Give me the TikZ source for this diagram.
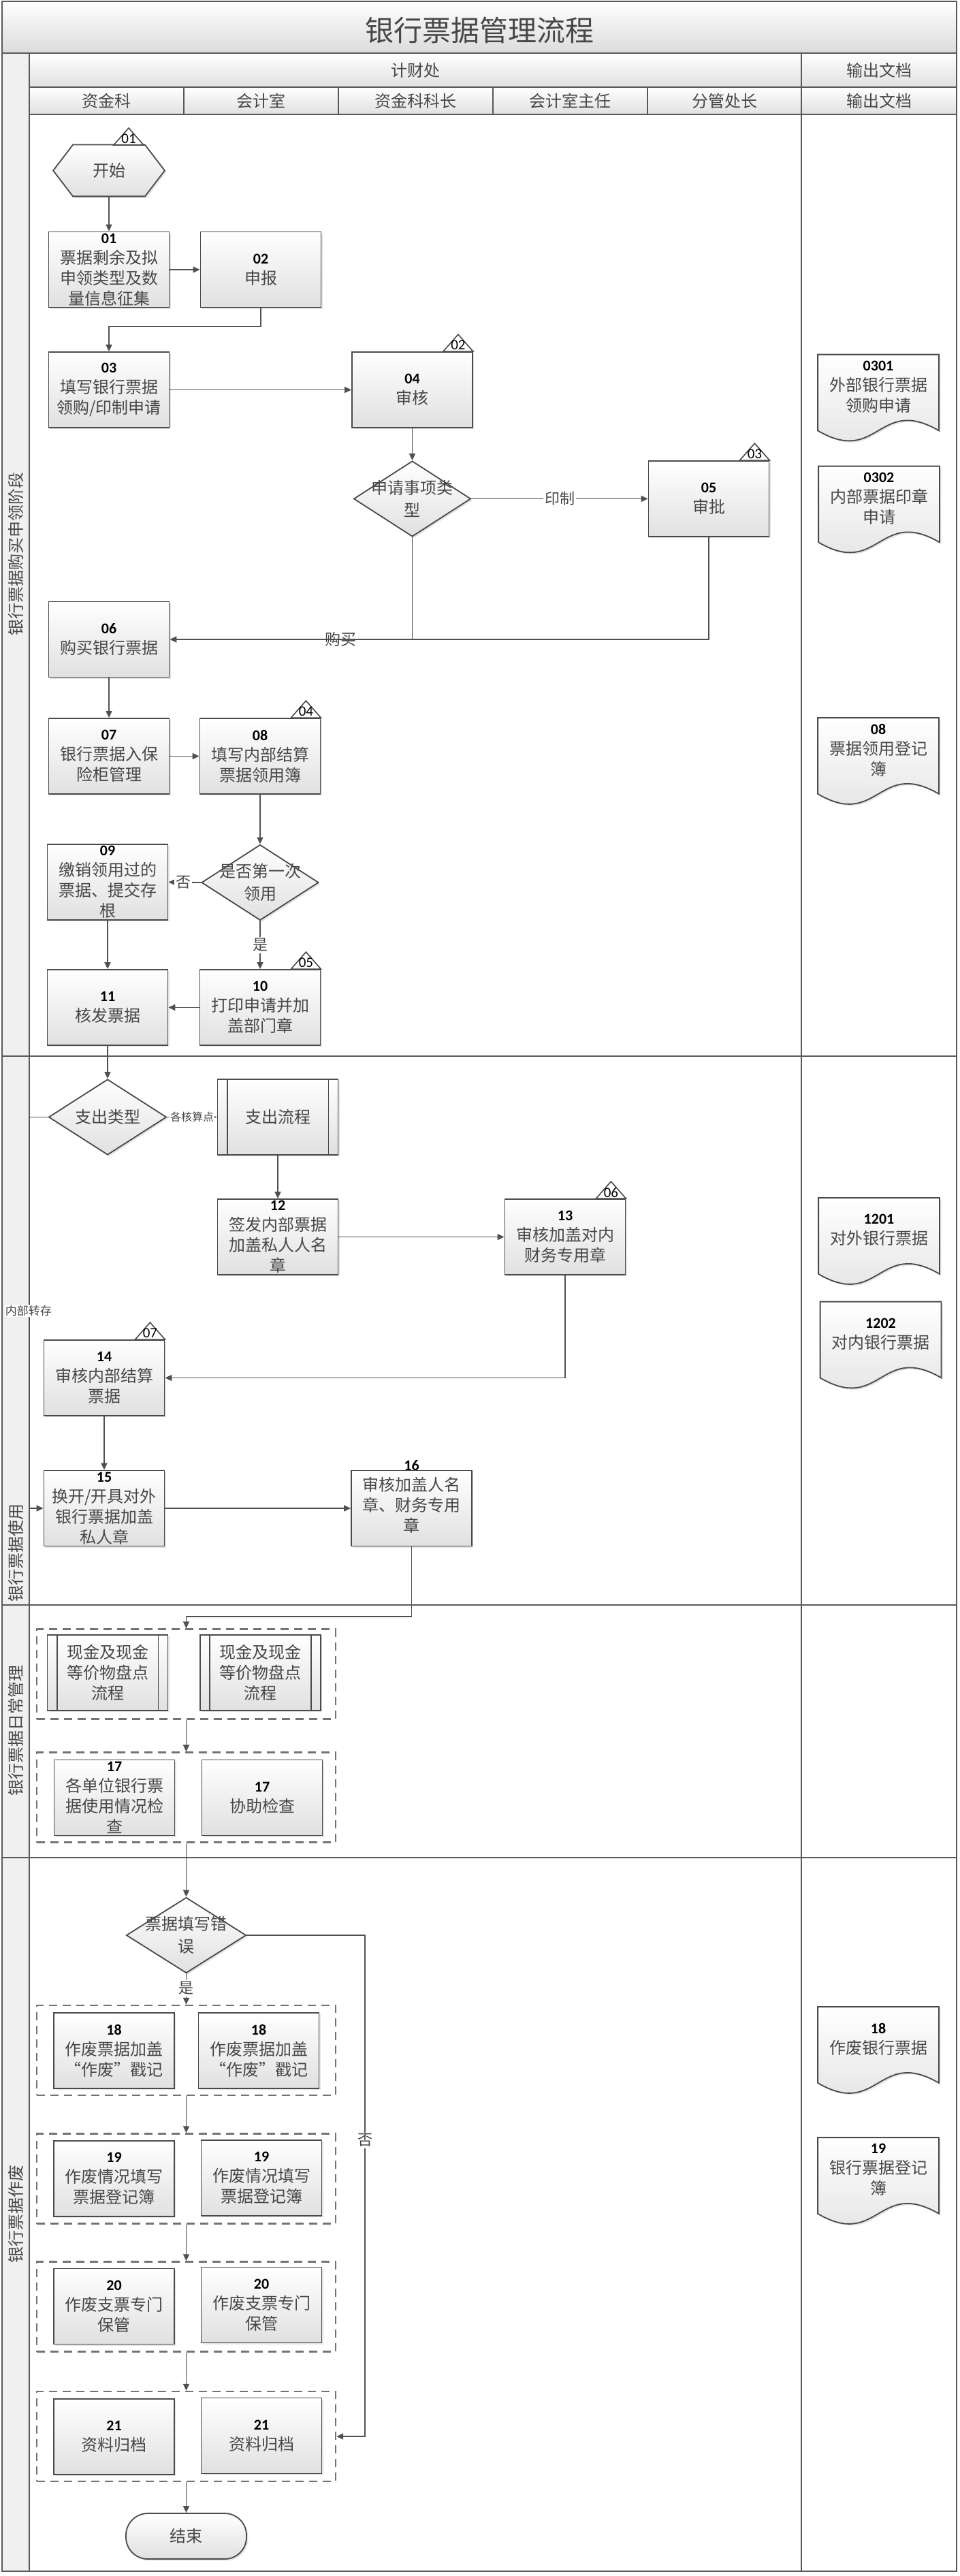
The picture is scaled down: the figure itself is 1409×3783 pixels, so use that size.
\documentclass[tikz,border=0pt]{standalone}
\usepackage{fontspec}
\newfontfamily\cjkf{Noto Sans CJK SC}
\newfontfamily\numf{Carlito}
\usetikzlibrary{shapes.geometric,arrows.meta,shadows,calc}
\definecolor{lc}{HTML}{4A4A4A}
\definecolor{ac}{HTML}{505050}
\definecolor{tc}{HTML}{474747}
\newcommand\nm[1]{{\numf\bfseries\fontsize{11pt}{15pt}\selectfont\color{black}#1}}
\tikzset{
  every node/.style={font=\cjkf\fontsize{12pt}{15pt}\selectfont, text=tc},
  frame/.style={draw=black!65, line width=1pt},
  shd/.style={drop shadow={shadow xshift=1.2pt, shadow yshift=-1.2pt, opacity=0.22}},
  grad/.style={top color=white, bottom color=black!12},
  pbox/.style={draw=lc, line width=0.9pt, grad, shd, minimum width=88.5pt, minimum height=55.5pt, inner sep=0pt},
  dia/.style={shape=diamond, draw=lc, line width=0.9pt, grad, shd, minimum width=86pt, minimum height=55.5pt, inner sep=0pt},
  bt/.style={align=center, inner sep=0pt},
  dt/.style={align=center, inner sep=0pt, font=\cjkf\fontsize{12pt}{16.5pt}\selectfont},
  ghost/.style={minimum width=88.5pt, minimum height=55.5pt, inner sep=0pt},
  docp/.style={draw=lc, line width=0.9pt, grad, shd},
  tri/.style={draw=lc, line width=0.8pt, fill=white},
  trit/.style={inner sep=0pt, font=\numf\fontsize{10.5pt}{11pt}\selectfont, text=black},
  grp/.style={draw=black!55, line width=1.2pt, dash pattern=on 6pt off 4pt, minimum width=219.5pt, minimum height=66pt, inner sep=0pt},
  conn/.style={draw=ac, line width=0.9pt, -{Triangle[length=5pt,width=4.5pt]}},
  plainline/.style={draw=ac, line width=0.9pt},
  lab/.style={fill=white, inner sep=1pt, font=\cjkf\fontsize{11pt}{13pt}\selectfont},
  slab/.style={fill=white, inner sep=0.5pt, font=\cjkf\fontsize{8pt}{10pt}\selectfont},
  hdr/.style={font=\cjkf\fontsize{12pt}{14pt}\selectfont},
  phase/.style={rotate=90, font=\cjkf\fontsize{12pt}{14pt}\selectfont},
  subl/.style={draw=lc, line width=0.9pt},
}
\newcommand\tmark[3]{%
  \coordinate (#1c) at (#2);
  \path[tri] ($(#1c)+(-44,0)$) -- ($(#1c)+(-22,-25)$) -- (#1c) -- cycle;
  \node[trit] (#1) at ($(#1c)+(-22,-9)$) {#3};
}
\newcommand\mydoc[4]{%
  \node[ghost] (#1) at (#2,#3) {};
  \path[docp] (#1.north west) -- (#1.north east) -- (#1.south east)
     .. controls ($(#1.south)+(0,-52)$) and ($(#1.south)+(0,52)$) .. (#1.south west) -- cycle;
  \node[bt] (#1t) at ($(#1.center)+(0,-8.5)$) {#4};
}
\newcommand\subbars[1]{%
  \draw[subl] ([xshift=7.5pt]#1.north west) -- ([xshift=7.5pt]#1.south west);
  \draw[subl] ([xshift=-7.5pt]#1.north east) -- ([xshift=-7.5pt]#1.south east);
}
\begin{document}
\begin{tikzpicture}[x=0.5pt,y=-0.5pt]
\useasboundingbox (0,0) rectangle (1409,3783);
\fill[white] (0,0) rectangle (1409,3783);
% backgrounds
\path[top color=white, bottom color=black!14] (3,2) rectangle (1405,78);
\fill[black!6] (3,78) rectangle (43,3776);
\path[top color=white, bottom color=black!12] (43,78) rectangle (1405,128);
\path[top color=white, bottom color=black!12] (43,128) rectangle (1405,168);
% frame lines
\draw[frame] (3,2) rectangle (1405,3776);
\draw[frame] (3,78) -- (1405,78);
\draw[frame] (43,128) -- (1405,128);
\draw[frame] (43,168) -- (1405,168);
\draw[frame] (43,78) -- (43,3776);
\draw[frame] (1177,78) -- (1177,3776);
\foreach \x in {270,497,724,951} \draw[frame] (\x,128) -- (\x,168);
\foreach \y in {1551,2357,2728} \draw[frame] (3,\y) -- (1405,\y);
% header texts
\node[font=\cjkf\fontsize{21pt}{24pt}\selectfont] (title) at (704,45) {银行票据管理流程};
\node[hdr] (hA) at (610,103) {计财处};
\node[hdr] (hB) at (1291,103) {输出文档};
\node[hdr] (c1) at (156.5,148) {资金科};
\node[hdr] (c2) at (383.5,148) {会计室};
\node[hdr] (c3) at (610.5,148) {资金科科长};
\node[hdr] (c4) at (837.5,148) {会计室主任};
\node[hdr] (c5) at (1064,148) {分管处长};
\node[hdr] (c6) at (1291,148) {输出文档};
% phase labels
\node[phase] (p1) at (23,813) {银行票据购买申领阶段};
\node[phase] (p2) at (23,2280) {银行票据使用};
\node[phase] (p3) at (23,2541) {银行票据日常管理};
\node[phase] (p4) at (23,3251) {银行票据作废};

% ---------- phase 1 ----------
\node[minimum width=81.5pt, minimum height=37.5pt, inner sep=0pt] (start) at (160,250.5) {};
\path[draw=lc, line width=.9pt, grad, shd] (start.west) -- ([xshift=14.5pt]start.north west) -- ([xshift=-14.5pt]start.north east) -- (start.east) -- ([xshift=-14.5pt]start.south east) -- ([xshift=14.5pt]start.south west) -- cycle;
\node[bt] (startt) at (start) {开始};
\tmark{m01}{211,213}{01}

\node[pbox, label={[bt]center:{\nm{01}\\票据剩余及拟\\申领类型及数\\量信息征集}}] (n01) at (160,396) {};
\node[pbox, label={[bt]center:{\nm{02}\\申报}}] (n02) at (383,396) {};
\node[pbox, label={[bt]center:{\nm{03}\\填写银行票据\\领购/印制申请}}] (n03) at (160,572.5) {};
\node[pbox, label={[bt]center:{\nm{04}\\审核}}] (n04) at (605.5,572.5) {};
\tmark{m02}{n04.north east}{02}
\node[dia, label={[dt]center:{申请事项类\\型}}] (d1) at (605.5,732.5) {};
\node[pbox, label={[bt]center:{\nm{05}\\审批}}] (n05) at (1041,732.5) {};
\tmark{m03}{n05.north east}{03}
\node[pbox, label={[bt]center:{\nm{06}\\购买银行票据}}] (n06) at (160,939) {};
\node[pbox, label={[bt]center:{\nm{07}\\银行票据入保\\险柜管理}}] (n07) at (160,1110.5) {};
\node[pbox, label={[bt]center:{\nm{08}\\填写内部结算\\票据领用簿}}] (n08) at (382,1110.5) {};
\tmark{m04}{n08.north east}{04}
\node[dia, label={[dt]center:{是否第一次\\领用}}] (d2) at (382,1296) {};
\node[pbox, label={[bt]center:{\nm{09}\\缴销领用过的\\票据、提交存\\根}}] (n09) at (158,1295.5) {};
\node[pbox, label={[bt]center:{\nm{10}\\打印申请并加\\盖部门章}}] (n10) at (382,1479.5) {};
\tmark{m05}{n10.north east}{05}
\node[pbox, label={[bt]center:{\nm{11}\\核发票据}}] (n11) at (158,1479.5) {};

% ---------- phase 2 ----------
\node[dia, minimum width=86.5pt, label={[dt]center:{支出类型}}] (d3) at (158,1640.5) {};
\node[pbox, label={[bt]center:{支出流程}}] (sub1) at (408,1640.5) {};
\subbars{sub1}
\node[pbox, label={[bt]center:{\nm{12}\\签发内部票据\\加盖私人人名\\章}}] (n12) at (408,1816.5) {};
\node[pbox, label={[bt]center:{\nm{13}\\审核加盖对内\\财务专用章}}] (n13) at (830,1816.5) {};
\tmark{m06}{n13.north east}{06}
\node[pbox, label={[bt]center:{\nm{14}\\审核内部结算\\票据}}] (n14) at (153,2023.5) {};
\tmark{m07}{n14.north east}{07}
\node[pbox, label={[bt]center:{\nm{15}\\换开/开具对外\\银行票据加盖\\私人章}}] (n15) at (153,2215) {};
\node[pbox, label={[bt,yshift=8.5pt]center:{\nm{16}\\审核加盖人名\\章、财务专用\\章}}] (n16) at (604.5,2215) {};

% ---------- phase 3 ----------
\node[grp] (g1) at (273.5,2458.5) {};
\node[pbox, label={[bt]center:{现金及现金\\等价物盘点\\流程}}] (sub2a) at (158,2456.5) {};
\subbars{sub2a}
\node[pbox, label={[bt]center:{现金及现金\\等价物盘点\\流程}}] (sub2b) at (382.5,2456.5) {};
\subbars{sub2b}
\node[grp] (g2) at (273.5,2639.5) {};
\node[pbox, label={[bt]center:{\nm{17}\\各单位银行票\\据使用情况检\\查}}] (n17a) at (168,2640) {};
\node[pbox, label={[bt]center:{\nm{17}\\协助检查}}] (n17b) at (385,2640) {};

% ---------- phase 4 ----------
\node[dia, minimum width=88pt, label={[dt]center:{票据填写错\\误}}] (d4) at (273.5,2842) {};
\node[grp] (g3) at (273.5,3011) {};
\node[pbox, label={[bt]center:{\nm{18}\\作废票据加盖\\“作废”戳记}}] (n18a) at (167.5,3011.5) {};
\node[pbox, label={[bt]center:{\nm{18}\\作废票据加盖\\“作废”戳记}}] (n18b) at (380,3011.5) {};
\node[grp] (g4) at (273.5,3199.5) {};
\node[pbox, label={[bt]center:{\nm{19}\\作废情况填写\\票据登记簿}}] (n19a) at (167.5,3199.5) {};
\node[pbox, label={[bt]center:{\nm{19}\\作废情况填写\\票据登记簿}}] (n19b) at (384,3198.5) {};
\node[grp] (g5) at (273.5,3387.5) {};
\node[pbox, label={[bt]center:{\nm{20}\\作废支票专门\\保管}}] (n20a) at (167.5,3387) {};
\node[pbox, label={[bt]center:{\nm{20}\\作废支票专门\\保管}}] (n20b) at (384,3385) {};
\node[grp] (g6) at (273.5,3578) {};
\node[pbox, label={[bt]center:{\nm{21}\\资料归档}}] (n21a) at (167.5,3578.5) {};
\node[pbox, label={[bt]center:{\nm{21}\\资料归档}}] (n21b) at (384,3577) {};
\node[pbox, rounded corners=16pt, minimum height=33.5pt, label={[bt]center:{结束}}] (end) at (273.5,3724.5) {};

% ---------- documents ----------
\mydoc{doc0301}{1290}{576.5}{\nm{0301}\\外部银行票据\\领购申请}
\mydoc{doc0302}{1291}{740.5}{\nm{0302}\\内部票据印章\\申请}
\mydoc{doc08}{1290}{1110}{\nm{08}\\票据领用登记\\簿}
\mydoc{doc1201}{1291}{1815}{\nm{1201}\\对外银行票据}
\mydoc{doc1202}{1293.5}{1967.5}{\nm{1202}\\对内银行票据}
\mydoc{doc18}{1290}{3003}{\nm{18}\\作废银行票据}
\mydoc{doc19}{1290}{3195}{\nm{19}\\银行票据登记\\簿}

% ---------- connectors ----------
\draw[conn] (start.south) -- (n01.north);
\draw[conn] (n01.east) -- (n02.west);
\draw[conn] (n02.south) -- ++(0,27) -| (n03.north);
\draw[conn] (n03.east) -- (n04.west);
\draw[conn] (n04.south) -- (d1.north);
\draw[conn] (d1.east) -- (n05.west);
\node[lab] (lyz) at (822,732.5) {印制};
\draw[conn] (d1.south) |- (n06.east);
\draw[plainline] (n05.south) |- (d1.south |- n06.east);
\node[inner sep=0pt, font=\cjkf\fontsize{11.5pt}{13pt}\selectfont] (lgm) at (500,939) {购买};
\draw[conn] (n06.south) -- (n07.north);
\draw[conn] (n07.east) -- (n08.west);
\draw[conn] (n08.south) -- (d2.north);
\draw[conn] (d2.west) -- (n09.east);
\node[lab] (lno1) at (269,1296) {否};
\draw[conn] (d2.south) -- (n10.north);
\node[lab] (lyes1) at (382,1388) {是};
\draw[conn] (n09.south) -- (n11.north);
\draw[conn] (n10.west) -- (n11.east);
\draw[conn] (n11.south) -- (d3.north);
\draw[conn] (d3.east) -- (sub1.west);
\node[slab] (lhs) at (282,1640.5) {各核算点};
\draw[conn] (sub1.south) -- (n12.north);
\draw[conn] (n12.east) -- (n13.west);
\draw[conn] (n13.south) |- (n14.east);
\draw[conn] (n14.south) -- (n15.north);
\coordinate (lb) at (43,1640.5);
\draw[conn] (d3.west) -- (lb) |- (n15.west);
\node[slab, font=\cjkf\fontsize{8.5pt}{10pt}\selectfont] (lnb) at (42,1925) {内部转存};
\draw[conn] (n15.east) -- (n16.west);
\coordinate (j1) at (273.5,2374);
\draw[conn] (n16.south) |- (j1) -- (g1.north);
\draw[conn] (g1.south) -- (g2.north);
\draw[conn] (g2.south) -- (d4.north);
\draw[conn] (d4.south) -- (g3.north);
\node[lab] (lyes2) at (273.5,2920) {是};
\coordinate (k1) at (536,2842);
\draw[conn] (d4.east) -- (k1) |- (g6.east);
\node[lab] (lno2) at (536,3143) {否};
\draw[conn] (g3.south) -- (g4.north);
\draw[conn] (g4.south) -- (g5.north);
\draw[conn] (g5.south) -- (g6.north);
\draw[conn] (g6.south) -- (end.north);
\end{tikzpicture}
\end{document}
